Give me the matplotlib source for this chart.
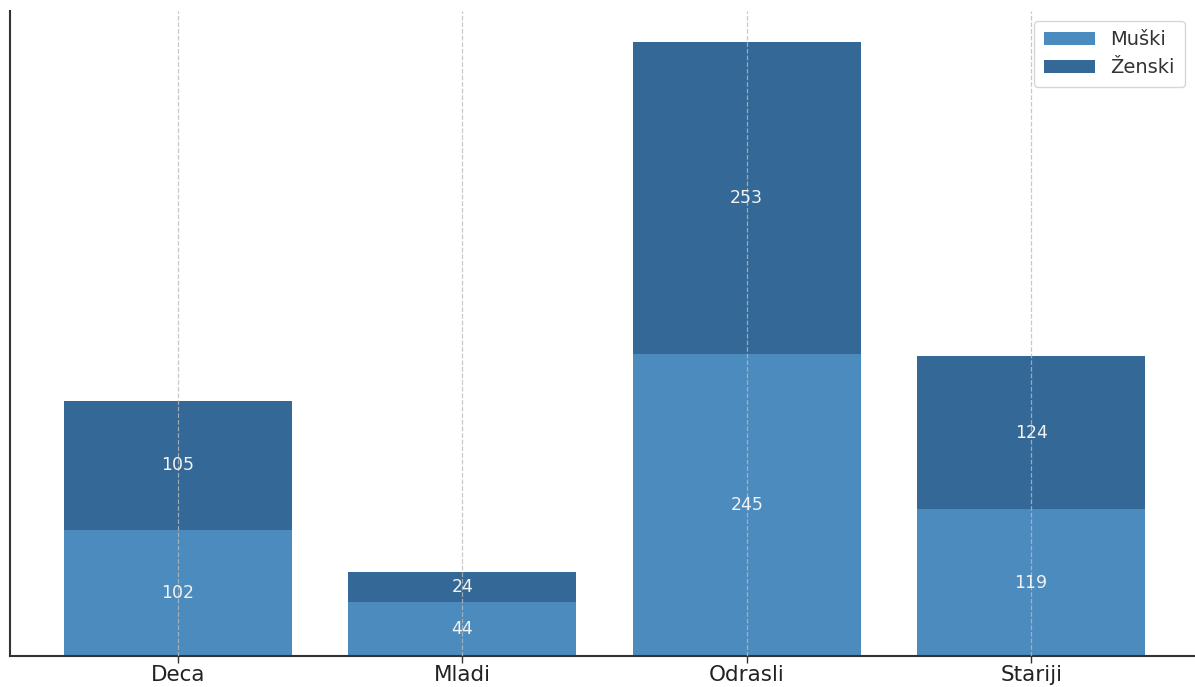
import matplotlib
matplotlib.use('Agg')
from matplotlib import pyplot as plt
import numpy as np

groups = ['Deca', 'Mladi', 'Odrasli', 'Stariji']
muski = [102, 44, 245, 119]
zenski = [105, 24, 253, 124]

muski_color = '#4b8bbe'
zenski_color = '#336897'


def main() -> None:
    fig = plt.figure(figsize=(11.95, 6.87), dpi=100)
    ax = fig.add_axes([10 / 1195, 31 / 687, 1189 / 1195, 645 / 687])

    x = np.arange(len(groups))
    b1 = ax.bar(x, muski, width=0.8, color=muski_color, label='Muški')
    b2 = ax.bar(x, zenski, width=0.8, bottom=muski, color=zenski_color, label='Ženski')

    for bars in (b1, b2):
        ax.bar_label(bars, label_type='center', color='#f2f2f2', fontsize=12.5)

    ax.set_axisbelow(False)
    ax.grid(axis='x', linestyle='--', color='#bbbbbb', linewidth=0.9, alpha=0.8)
    ax.set_xticks(x)
    ax.set_xticklabels(groups, fontsize=15.5, color='#222222')
    ax.set_yticks([])
    ax.tick_params(axis='x', length=5, width=1, color='#333333', pad=1.5)
    for side in ('top', 'right'):
        ax.spines[side].set_visible(False)
    for side in ('left', 'bottom'):
        ax.spines[side].set_color('#333333')
        ax.spines[side].set_linewidth(1.5)

    ax.legend(loc='upper right', fontsize=14, bbox_to_anchor=(0.996, 1.0),
              handlelength=2.6, labelcolor='#333333', borderpad=0.5,
              labelspacing=0.45)

    fig.savefig('out.png', dpi=100)


if '__main__' == __name__:
    main()
